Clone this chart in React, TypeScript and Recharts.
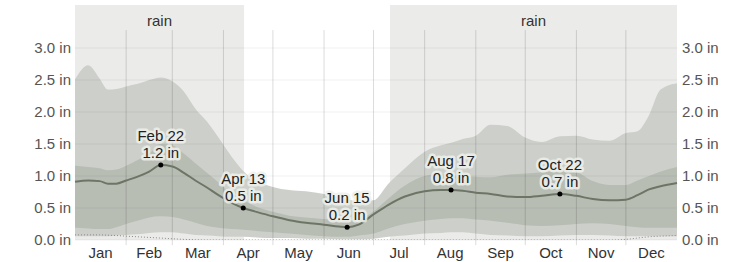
import {
  ComposedChart,
  Area,
  Line,
  XAxis,
  YAxis,
  ReferenceArea,
  ReferenceLine,
  ReferenceDot,
} from "recharts";

// day of year (0 = Jan 1)
const days = [
  0, 8, 15, 20, 25, 31, 38, 45, 52, 59, 66, 73, 80, 87, 95, 102, 110, 120, 130,
  140, 151, 160, 165, 172, 181, 190, 200, 212, 222, 228, 235, 243, 252, 262,
  273, 283, 294, 304, 314, 324, 334, 341, 348, 355, 365,
];

const p90 = [
  2.51, 2.73, 2.52, 2.35, 2.36, 2.4, 2.44, 2.5, 2.54, 2.48, 2.32, 2.05, 1.85,
  1.6, 1.3, 1.08, 0.92, 0.83, 0.78, 0.76, 0.72, 0.68, 0.64, 0.6, 0.62, 0.88,
  1.12, 1.38, 1.48, 1.52, 1.58, 1.63, 1.8, 1.78, 1.6, 1.53, 1.62, 1.63, 1.57,
  1.55, 1.67, 1.7, 1.95, 2.35, 2.45,
];

const p75 = [
  1.16, 1.14, 1.12, 1.09, 1.1, 1.16, 1.25, 1.35, 1.5, 1.48, 1.35, 1.2, 1.05,
  0.9, 0.72, 0.62, 0.52, 0.44, 0.38, 0.35, 0.33, 0.31, 0.3, 0.32, 0.45, 0.65,
  0.85, 1.0, 1.03, 1.02, 1.0, 0.99, 0.98, 1.02, 1.04, 1.06, 1.08, 1.06, 0.92,
  0.86, 0.86, 0.93, 1.0, 1.07, 1.14,
];

const median = [
  0.91, 0.93, 0.92, 0.88, 0.88, 0.93, 0.99, 1.07, 1.17, 1.15, 1.05, 0.93, 0.82,
  0.7, 0.58, 0.5, 0.44, 0.37, 0.31, 0.27, 0.24, 0.21, 0.2, 0.24, 0.4, 0.55,
  0.68, 0.76, 0.78, 0.78, 0.77, 0.74, 0.72, 0.68, 0.67, 0.69, 0.72, 0.69, 0.64,
  0.62, 0.63, 0.7, 0.79, 0.84, 0.89,
];

const p25 = [
  0.19, 0.18, 0.17, 0.17, 0.2, 0.25, 0.3, 0.35, 0.37, 0.36, 0.32, 0.27, 0.22,
  0.19, 0.17, 0.16, 0.14, 0.12, 0.1, 0.08, 0.06, 0.05, 0.05, 0.07, 0.1, 0.18,
  0.25, 0.3, 0.33, 0.34, 0.34, 0.32, 0.3, 0.27, 0.23, 0.22, 0.23, 0.25, 0.26,
  0.25, 0.22, 0.2, 0.19, 0.19, 0.19,
];

const p10 = [
  0.06, 0.06, 0.06, 0.06, 0.07, 0.08, 0.09, 0.11, 0.12, 0.12, 0.1, 0.08, 0.07,
  0.06, 0.05, 0.05, 0.04, 0.03, 0.03, 0.02, 0.02, 0.01, 0.01, 0.01, 0.02, 0.05,
  0.07, 0.1, 0.11, 0.12, 0.12, 0.1, 0.08, 0.07, 0.06, 0.06, 0.07, 0.08, 0.08,
  0.07, 0.06, 0.06, 0.06, 0.06, 0.06,
];

const snow = [
  0.08, 0.08, 0.08, 0.075, 0.07, 0.06, 0.05, 0.04, 0.03, 0.02, 0.01, 0.005, 0,
  0, 0, 0, 0, 0, 0, 0, 0, 0, 0, 0, 0, 0, 0, 0, 0, 0, 0, 0, 0, 0, 0, 0, 0, 0, 0,
  0, 0.01, 0.03, 0.05, 0.06, 0.07,
];

const months = ["Jan", "Feb", "Mar", "Apr", "May", "Jun", "Jul", "Aug", "Sep", "Oct", "Nov", "Dec"];
const monthMid = [15.5, 45, 74.5, 105, 135.5, 166, 196.5, 227.5, 258, 288.5, 319, 349.5];
const monthStart = [31, 59, 90, 120, 151, 181, 212, 243, 273, 304, 334];
const yTicks = [0, 0.5, 1, 1.5, 2, 2.5, 3];

const rainStart = [0, 191];
const rainEnd = [102.5, 365];

const annDays = [52, 102, 165, 228, 294];
const annDates = ["Feb 22", "Apr 13", "Jun 15", "Aug 17", "Oct 22"];
const annValues = ["1.2 in", "0.5 in", "0.2 in", "0.8 in", "0.7 in"];

const data = days.map((d, i) => ({
  day: d,
  outer: [p10[i], p90[i]],
  inner: [p25[i], p75[i]],
  median: median[i],
  snow: snow[i],
}));

const Y_MAX = 3.672;

function AnnLabel({ viewBox, date, value }: any) {
  const cx = viewBox.x + viewBox.width / 2;
  const cy = viewBox.y + viewBox.height / 2;
  const halo = {
    stroke: "rgba(238,240,236,0.85)",
    strokeWidth: 5,
    strokeLinejoin: "round" as const,
    paintOrder: "stroke",
  };
  return (
    <g>
      <text x={cx} y={cy - 24} textAnchor="middle" fontSize={15} fill="#222" style={halo}>
        {date}
      </text>
      <text x={cx} y={cy - 7} textAnchor="middle" fontSize={15} fill="#222" style={halo}>
        {value}
      </text>
    </g>
  );
}

export default function App() {
  return (
    <div
      style={{
        position: "absolute",
        left: 0,
        top: 0,
        fontFamily: "'Liberation Sans', Arial, sans-serif",
      }}
    >
      <ComposedChart
        width={753}
        height={262}
        data={data}
        margin={{ top: 5, right: 0, bottom: 0, left: 0 }}
      >
        <XAxis
          dataKey="day"
          type="number"
          domain={[0, 365]}
          ticks={monthMid}
          tickFormatter={(v: number) => months[monthMid.indexOf(v)]}
          axisLine={false}
          tickLine={false}
          tickSize={0}
          tickMargin={7}
          height={22}
          interval={0}
          tick={{ fill: "#333", fontSize: 15 }}
        />
        <YAxis
          yAxisId="left"
          domain={[0, Y_MAX]}
          ticks={yTicks}
          tickFormatter={(v: number) => v.toFixed(1) + " in"}
          axisLine={false}
          tickLine={false}
          tickSize={0}
          tickMargin={4}
          width={75}
          allowDataOverflow
          tick={{ fill: "#555", fontSize: 15 }}
        />
        <YAxis
          yAxisId="right"
          orientation="right"
          domain={[0, Y_MAX]}
          ticks={yTicks}
          tickFormatter={(v: number) => v.toFixed(1) + " in"}
          axisLine={false}
          tickLine={false}
          tickSize={0}
          tickMargin={5}
          width={76}
          allowDataOverflow
          tick={{ fill: "#555", fontSize: 15 }}
        />

        {rainStart.map((s, i) => (
          <ReferenceArea
            key={"rain" + i}
            yAxisId="left"
            x1={s}
            x2={rainEnd[i]}
            y1={0}
            y2={Y_MAX}
            fill="#ebecea"
            fillOpacity={1}
            stroke="none"
            label={{ value: "rain", position: "insideTop", offset: 10, fill: "#333", fontSize: 15 }}
          />
        ))}

        <Area
          yAxisId="left"
          type="monotone"
          dataKey="outer"
          fill="#cdd0ca"
          fillOpacity={1}
          stroke="none"
          isAnimationActive={false}
        />
        <Area
          yAxisId="left"
          type="monotone"
          dataKey="inner"
          fill="#b8bdb4"
          fillOpacity={1}
          stroke="none"
          isAnimationActive={false}
        />

        {yTicks.map((t) => (
          <ReferenceLine key={"h" + t} yAxisId="left" y={t} stroke="rgba(0,0,0,0.06)" />
        ))}
        {monthStart.map((d) => (
          <ReferenceLine
            key={"v" + d}
            yAxisId="left"
            ifOverflow="visible"
            segment={[
              { x: d, y: -0.08 },
              { x: d, y: 3.28 },
            ]}
            stroke="rgba(0,0,0,0.14)"
          />
        ))}

        <Line
          yAxisId="left"
          type="monotone"
          dataKey="snow"
          stroke="#8a8a8a"
          strokeWidth={1}
          strokeDasharray="1 2"
          dot={false}
          isAnimationActive={false}
        />
        <Line
          yAxisId="left"
          type="monotone"
          dataKey="median"
          stroke="#6d7566"
          strokeWidth={2}
          dot={false}
          isAnimationActive={false}
        />

        {annDays.map((d, i) => (
          <ReferenceDot
            key={"a" + d}
            yAxisId="left"
            x={d}
            y={median[days.indexOf(d)]}
            r={2.5}
            fill="#000"
            stroke="none"
            label={<AnnLabel date={annDates[i]} value={annValues[i]} />}
          />
        ))}
      </ComposedChart>
    </div>
  );
}
